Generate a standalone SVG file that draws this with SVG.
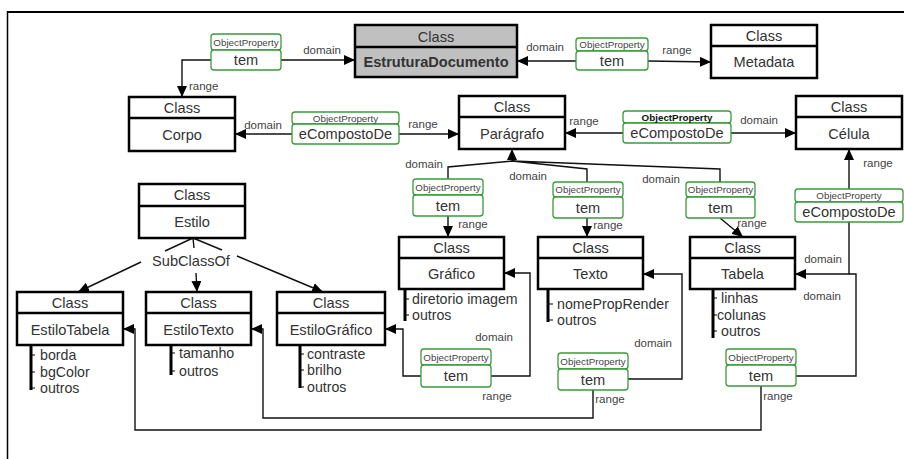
<svg xmlns="http://www.w3.org/2000/svg" width="904" height="459" viewBox="0 0 904 459">
<defs>
<marker id="arr" markerUnits="userSpaceOnUse" markerWidth="11" markerHeight="10" refX="11" refY="5" orient="auto">
<path d="M0,0 L11,5 L0,10 z" fill="#000"/>
</marker>
<style>
text{font-family:"Liberation Sans",Arial,sans-serif;fill:#333;text-anchor:middle;dominant-baseline:central}
.cls rect{fill:#fff;stroke:#000;stroke-width:2.5}
.cls line{stroke:#000;stroke-width:2.5}
.ct{font-size:14.6px}
.op rect{fill:#fff;stroke:#3a9a3a;stroke-width:1.3}
.oh{font-size:9.8px;fill:#444}
.ob{font-size:14.6px}
.lbl{font-size:11.5px;fill:#444}
.conn path{stroke:#111;stroke-width:1.4;fill:none}
.attr line.bar{stroke:#000;stroke-width:3}
.attr line.tk{stroke:#000;stroke-width:1}
.at{font-size:14.2px;text-anchor:start}
</style>
</defs>
<rect width="904" height="459" fill="#fff"/>
<path d="M7.5,459 L7.5,12 L904,12" fill="none" stroke="#000" stroke-width="1.5"/>
<line x1="7" y1="12" x2="904" y2="12" stroke="#000" stroke-width="2"/>

<g id="connectors" class="conn">
<path d="M281,60 L355,60" marker-end="url(#arr)"/>
<path d="M211,60 L182,60 L182,97" marker-end="url(#arr)"/>
<path d="M576,61 L517,61" marker-end="url(#arr)"/>
<path d="M648,61 L711,62" marker-end="url(#arr)"/>
<path d="M292,134 L235,134" marker-end="url(#arr)"/>
<path d="M399,134 L459,134" marker-end="url(#arr)"/>
<path d="M623,133 L565,133" marker-end="url(#arr)"/>
<path d="M731,133 L796,133" marker-end="url(#arr)"/>
<path d="M512,161 L512,149" marker-end="url(#arr)"/>
<path d="M448,179 L448,167 L512,161 M587,182 L587,169 L512,161 M720,182 L720,169 L512,161"/>
<path d="M448,216 L448,237" marker-end="url(#arr)"/>
<path d="M587,218 L587,237" marker-end="url(#arr)"/>
<path d="M720,218 L743,237" marker-end="url(#arr)"/>
<path d="M849,189 L849,149" marker-end="url(#arr)"/>
<path d="M849,222 L849,274 L795,274" marker-end="url(#arr)"/>
<path d="M796,376 L856,376 L856,274 L849,274"/>
<path d="M761,386 L761,430 L135,430 L135,329 L123,329" marker-end="url(#arr)"/>
<path d="M628,379 L682,379 L682,274 L643,274" marker-end="url(#arr)"/>
<path d="M593,390 L593,418 L263,418 L263,329 L251,329" marker-end="url(#arr)"/>
<path d="M491,376 L530,376 L530,273 L504,273" marker-end="url(#arr)"/>
<path d="M421,376 L403,376 L403,329 L385,329" marker-end="url(#arr)"/>
<path d="M193,238 L165,251 M193,238 L194,248 M193,238 L222,250"/>
<path d="M141,262 L78,292" marker-end="url(#arr)"/>
<path d="M196,273 L197,292" marker-end="url(#arr)"/>
<path d="M237,256 L323,292" marker-end="url(#arr)"/>
<text class="ct" x="191" y="261">SubClassOf</text>
<text class="lbl" x="322" y="50">domain</text>
<text class="lbl" x="189" y="86" style="text-anchor:start">range</text>
<text class="lbl" x="545" y="47">domain</text>
<text class="lbl" x="677" y="50">range</text>
<text class="lbl" x="263" y="125">domain</text>
<text class="lbl" x="423" y="124">range</text>
<text class="lbl" x="584" y="121">range</text>
<text class="lbl" x="759" y="120">domain</text>
<text class="lbl" x="424" y="164">domain</text>
<text class="lbl" x="528" y="176">domain</text>
<text class="lbl" x="661" y="179">domain</text>
<text class="lbl" x="473" y="224">range</text>
<text class="lbl" x="608" y="225">range</text>
<text class="lbl" x="752" y="223">range</text>
<text class="lbl" x="878" y="163">range</text>
<text class="lbl" x="823" y="259">domain</text>
<text class="lbl" x="822" y="296">domain</text>
<text class="lbl" x="778" y="396">range</text>
<text class="lbl" x="653" y="343">domain</text>
<text class="lbl" x="610" y="399">range</text>
<text class="lbl" x="494" y="337">domain</text>
<text class="lbl" x="497" y="396">range</text>
</g>

<g id="EstruturaDocumento" class="cls">
<rect x="355" y="25" width="162" height="52" style="fill:#c0c0c0"/><line x1="355" y1="47" x2="517" y2="47"/>
<text class="ct" x="436" y="36.5">Class</text><text class="ct" x="436" y="62" style="font-weight:bold">EstruturaDocumento</text>
</g>
<g id="Metadata" class="cls">
<rect x="711" y="25" width="106" height="53"/><line x1="711" y1="46" x2="817" y2="46"/>
<text class="ct" x="764" y="35.5">Class</text><text class="ct" x="764" y="62">Metadata</text>
</g>
<g id="Corpo" class="cls">
<rect x="129" y="97" width="106" height="54"/><line x1="129" y1="118" x2="235" y2="118"/>
<text class="ct" x="182" y="107.5">Class</text><text class="ct" x="182" y="135">Corpo</text>
</g>
<g id="Paragrafo" class="cls">
<rect x="459" y="96" width="106" height="53"/><line x1="459" y1="117" x2="565" y2="117"/>
<text class="ct" x="512" y="106.5">Class</text><text class="ct" x="512" y="134">Parágrafo</text>
</g>
<g id="Celula" class="cls">
<rect x="796" y="96" width="106" height="53"/><line x1="796" y1="117" x2="902" y2="117"/>
<text class="ct" x="849" y="106.5">Class</text><text class="ct" x="849" y="134">Célula</text>
</g>
<g id="Estilo" class="cls">
<rect x="139" y="184" width="106" height="54"/><line x1="139" y1="206" x2="245" y2="206"/>
<text class="ct" x="192" y="195">Class</text><text class="ct" x="192" y="222">Estilo</text>
</g>
<g id="EstiloTabela" class="cls">
<rect x="17" y="292" width="106" height="53"/><line x1="17" y1="313" x2="123" y2="313"/>
<text class="ct" x="70" y="302.5">Class</text><text class="ct" x="70" y="329.5">EstiloTabela</text>
</g>
<g id="EstiloTexto" class="cls">
<rect x="146" y="292" width="105" height="53"/><line x1="146" y1="313" x2="251" y2="313"/>
<text class="ct" x="198.5" y="302.5">Class</text><text class="ct" x="198.5" y="329.5">EstiloTexto</text>
</g>
<g id="EstiloGrafico" class="cls">
<rect x="277" y="292" width="108" height="53"/><line x1="277" y1="313" x2="385" y2="313"/>
<text class="ct" x="331" y="302.5">Class</text><text class="ct" x="331" y="329.5">EstiloGráfico</text>
</g>
<g id="Grafico" class="cls">
<rect x="399" y="237" width="105" height="52"/><line x1="399" y1="258" x2="504" y2="258"/>
<text class="ct" x="451.5" y="247.5">Class</text><text class="ct" x="451.5" y="274">Gráfico</text>
</g>
<g id="Texto" class="cls">
<rect x="538" y="237" width="105" height="52"/><line x1="538" y1="258" x2="643" y2="258"/>
<text class="ct" x="590.5" y="247.5">Class</text><text class="ct" x="590.5" y="274">Texto</text>
</g>
<g id="Tabela" class="cls">
<rect x="690" y="237" width="105" height="52"/><line x1="690" y1="258" x2="795" y2="258"/>
<text class="ct" x="742.5" y="247.5">Class</text><text class="ct" x="742.5" y="274">Tabela</text>
</g>

<g id="attrs" class="attr">
<line class="bar" x1="405" y1="289" x2="405" y2="321"/><line class="tk" x1="405" y1="299" x2="409" y2="299"/><line class="tk" x1="405" y1="315" x2="409" y2="315"/>
<text class="at" x="412" y="299">diretorio imagem</text><text class="at" x="412" y="315">outros</text>
<line class="bar" x1="548" y1="289" x2="548" y2="322"/><line class="tk" x1="548" y1="304" x2="553" y2="304"/><line class="tk" x1="548" y1="320" x2="553" y2="320"/>
<text class="at" x="557" y="304">nomePropRender</text><text class="at" x="557" y="320">outros</text>
<line class="bar" x1="713" y1="289" x2="713" y2="338"/><line class="tk" x1="713" y1="298" x2="717" y2="298"/><line class="tk" x1="713" y1="315" x2="717" y2="315"/><line class="tk" x1="713" y1="331" x2="717" y2="331"/>
<text class="at" x="721" y="298">linhas</text><text class="at" x="717" y="315">colunas</text><text class="at" x="721" y="331">outros</text>
<line class="bar" x1="31" y1="345" x2="31" y2="390"/><line class="tk" x1="31" y1="355" x2="35" y2="355"/><line class="tk" x1="31" y1="372" x2="35" y2="372"/><line class="tk" x1="31" y1="388" x2="35" y2="388"/>
<text class="at" x="40" y="355">borda</text><text class="at" x="40" y="372">bgColor</text><text class="at" x="40" y="388">outros</text>
<line class="bar" x1="171" y1="345" x2="171" y2="375"/><line class="tk" x1="171" y1="353" x2="175" y2="353"/><line class="tk" x1="171" y1="371" x2="175" y2="371"/>
<text class="at" x="179" y="353">tamanho</text><text class="at" x="179" y="371">outros</text>
<line class="bar" x1="300" y1="345" x2="300" y2="388"/><line class="tk" x1="300" y1="354" x2="304" y2="354"/><line class="tk" x1="300" y1="370" x2="304" y2="370"/><line class="tk" x1="300" y1="387" x2="304" y2="387"/>
<text class="at" x="307" y="354">contraste</text><text class="at" x="307" y="370">brilho</text><text class="at" x="307" y="387">outros</text>
</g>

<g id="op-tem-1" class="op">
<rect x="211" y="34" width="70" height="16" rx="3"/><rect x="211" y="50" width="70" height="20" rx="3"/>
<text class="oh" x="246" y="42">ObjectProperty</text><text class="ob" x="246" y="60">tem</text>
</g>
<g id="op-tem-2" class="op">
<rect x="576" y="38" width="72" height="13" rx="3"/><rect x="576" y="51" width="72" height="19" rx="3"/>
<text class="oh" x="612" y="44.5">ObjectProperty</text><text class="ob" x="612" y="60.5">tem</text>
</g>
<g id="op-eCompostoDe-1" class="op">
<rect x="292" y="112" width="107" height="12" rx="3"/><rect x="292" y="124" width="107" height="20" rx="3"/>
<text class="oh" x="345.5" y="118">ObjectProperty</text><text class="ob" x="345.5" y="134">eCompostoDe</text>
</g>
<g id="op-eCompostoDe-2" class="op">
<rect x="623" y="111" width="108" height="12" rx="3"/><rect x="623" y="123" width="108" height="20" rx="3"/>
<text class="oh" x="677" y="117" style="font-weight:bold;fill:#111">ObjectProperty</text><text class="ob" x="677" y="133">eCompostoDe</text>
</g>
<g id="op-tem-3" class="op">
<rect x="413" y="179" width="70" height="16" rx="3"/><rect x="413" y="195" width="70" height="21" rx="3"/>
<text class="oh" x="448" y="187">ObjectProperty</text><text class="ob" x="448" y="205.5">tem</text>
</g>
<g id="op-tem-4" class="op">
<rect x="553" y="182" width="70" height="15" rx="3"/><rect x="553" y="197" width="70" height="21" rx="3"/>
<text class="oh" x="588" y="189.5">ObjectProperty</text><text class="ob" x="588" y="207.5">tem</text>
</g>
<g id="op-tem-5" class="op">
<rect x="686" y="182" width="69" height="15" rx="3"/><rect x="686" y="197" width="69" height="21" rx="3"/>
<text class="oh" x="720.5" y="189.5">ObjectProperty</text><text class="ob" x="720.5" y="207.5">tem</text>
</g>
<g id="op-eCompostoDe-3" class="op">
<rect x="795" y="189" width="108" height="13" rx="3"/><rect x="795" y="202" width="108" height="20" rx="3"/>
<text class="oh" x="849" y="195.5">ObjectProperty</text><text class="ob" x="849" y="212">eCompostoDe</text>
</g>
<g id="op-tem-6" class="op">
<rect x="421" y="349" width="70" height="16" rx="3"/><rect x="421" y="365" width="70" height="22" rx="3"/>
<text class="oh" x="456" y="357">ObjectProperty</text><text class="ob" x="456" y="376">tem</text>
</g>
<g id="op-tem-7" class="op">
<rect x="558" y="353" width="70" height="16" rx="3"/><rect x="558" y="369" width="70" height="21" rx="3"/>
<text class="oh" x="593" y="361">ObjectProperty</text><text class="ob" x="593" y="379.5">tem</text>
</g>
<g id="op-tem-8" class="op">
<rect x="726" y="349" width="70" height="16" rx="3"/><rect x="726" y="365" width="70" height="21" rx="3"/>
<text class="oh" x="761" y="357">ObjectProperty</text><text class="ob" x="761" y="375.5">tem</text>
</g>
</svg>
